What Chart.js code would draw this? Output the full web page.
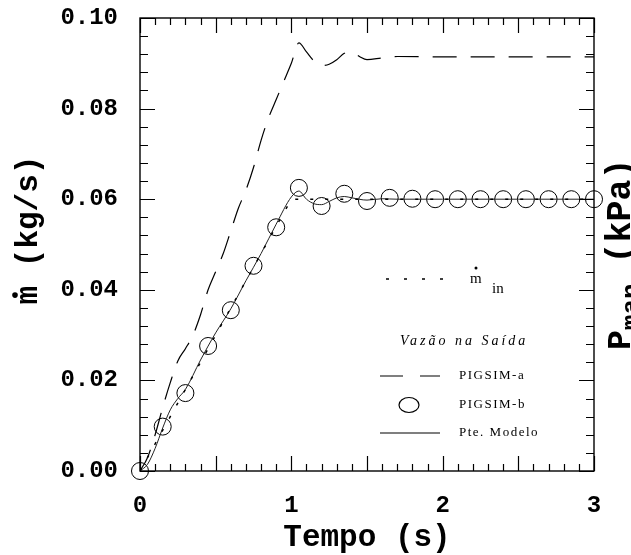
<!DOCTYPE html>
<html>
<head>
<meta charset="utf-8">
<script src="https://cdn.jsdelivr.net/npm/chart.js@4.4.0/dist/chart.umd.min.js"></script>
<style>
html, body { margin: 0; padding: 0; background: #fff; }
#wrap { width: 631px; height: 555px; position: relative; }
</style>
</head>
<body>
<div id="wrap"><canvas id="chart"></canvas></div>
<script>
// axis ticks
const xTicks = [0, 1, 2, 3];
const yTicks = [0, 0.02, 0.04, 0.06, 0.08, 0.10];
const xMinorStep = 0.1;
const yMinorStep = 0.004;

// m_in (dotted)
const tIn = [0, 0.05, 0.1, 0.2, 0.3, 0.5, 0.7, 0.9, 1.0, 1.1, 1.5, 2.0, 2.5, 3.0];
const mIn = [0, 0.003, 0.006, 0.012, 0.018, 0.030, 0.042, 0.054, 0.060, 0.060, 0.060, 0.060, 0.060, 0.060];

// PIGSIM-a (dashed)
const tA = [0, 0.05, 0.1, 0.15, 0.2, 0.25, 0.3, 0.35, 0.4, 0.45, 0.5, 0.55, 0.6, 0.65, 0.7, 0.75, 0.8, 0.85, 0.9, 0.95, 1.0, 1.05, 1.1, 1.15, 1.2, 1.25, 1.3, 1.35, 1.4, 1.45, 1.5, 1.6, 1.7, 2.0, 2.5, 3.0];
const pigsimA = [0, 0.003, 0.008, 0.014, 0.0195, 0.0243, 0.027, 0.030, 0.0345, 0.040, 0.044, 0.048, 0.053, 0.058, 0.062, 0.067, 0.073, 0.078, 0.082, 0.086, 0.090, 0.0945, 0.0925, 0.0905, 0.0895, 0.0898, 0.0908, 0.0922, 0.0925, 0.0915, 0.0908, 0.0912, 0.0915, 0.0914, 0.0914, 0.0914];

// PIGSIM-b (circles)
const tB = [0, 0.15, 0.3, 0.45, 0.6, 0.75, 0.9, 1.05, 1.2, 1.35, 1.5, 1.65, 1.8, 1.95, 2.1, 2.25, 2.4, 2.55, 2.7, 2.85, 3.0];
const pigsimB = [0, 0.0098, 0.0172, 0.0276, 0.0355, 0.0453, 0.0538, 0.0625, 0.0585, 0.0612, 0.0596, 0.0603, 0.0601, 0.060, 0.060, 0.060, 0.060, 0.060, 0.060, 0.060, 0.060];

// Pte. Modelo (solid)
const tModel = [0, 0.05, 0.1, 0.15, 0.2, 0.25, 0.3, 0.4, 0.5, 0.6, 0.7, 0.8, 0.9, 1.0, 1.05, 1.1, 1.15, 1.2, 1.25, 1.3, 1.35, 1.4, 1.5, 1.6, 1.7, 2.0, 2.5, 3.0];
const pteModelo = [0, 0.0015, 0.005, 0.0095, 0.0135, 0.016, 0.018, 0.0245, 0.0305, 0.0358, 0.042, 0.048, 0.0545, 0.0605, 0.0618, 0.0600, 0.0590, 0.0588, 0.0595, 0.0603, 0.0606, 0.0603, 0.0598, 0.0601, 0.0600, 0.0600, 0.0600, 0.0600];

function pairs(xs, ys) {
    return xs.map((x, i) => ({ x: x, y: ys[i] }));
}

const mono = "'Liberation Mono', 'Courier New', monospace";
const serif = "'Liberation Serif', 'Times New Roman', serif";

// frame, inward ticks, axis titles and the in-plot legend
const decor = {
    id: 'decor',
    afterDraw(chart) {
        const ctx = chart.ctx;
        const a = chart.chartArea;
        const xs = chart.scales.x, ys = chart.scales.y;
        ctx.save();
        ctx.strokeStyle = '#000';
        ctx.lineWidth = 1.4;
        ctx.strokeRect(a.left, a.top, a.right - a.left, a.bottom - a.top);

        ctx.lineWidth = 1.2;
        ctx.beginPath();
        const nx = Math.round((xs.max - xs.min) / xMinorStep);
        for (let i = 0; i <= nx; i++) {
            const px = Math.round(xs.getPixelForValue(xs.min + i * xMinorStep)) + 0.5;
            const len = i % 5 === 0 ? 15 : 7;
            ctx.moveTo(px, a.bottom); ctx.lineTo(px, a.bottom - len);
            ctx.moveTo(px, a.top); ctx.lineTo(px, a.top + len);
        }
        const ny = Math.round((ys.max - ys.min) / yMinorStep);
        for (let i = 0; i <= ny; i++) {
            const py = Math.round(ys.getPixelForValue(ys.min + i * yMinorStep)) + 0.5;
            const len = i % 5 === 0 ? 15 : 8;
            ctx.moveTo(a.left, py); ctx.lineTo(a.left + len, py);
            ctx.moveTo(a.right, py); ctx.lineTo(a.right - len, py);
        }
        ctx.stroke();

        // y title with dot over m
        ctx.fillStyle = '#000';
        ctx.font = 'bold 31px ' + mono;
        ctx.save();
        ctx.translate(29, 230);
        ctx.rotate(-Math.PI / 2);
        ctx.textAlign = 'left';
        ctx.textBaseline = 'middle';
        const yt = 'm (kg/s)';
        const w = ctx.measureText(yt).width;
        ctx.fillText(yt, -w / 2, 0);
        const mw = ctx.measureText('m').width;
        ctx.beginPath();
        ctx.arc(-w / 2 + mw / 2, -14, 2.8, 0, Math.PI * 2);
        ctx.fill();
        ctx.restore();

        // right title (clipped by the edge)
        ctx.save();
        ctx.translate(630, 350);
        ctx.rotate(-Math.PI / 2);
        ctx.textBaseline = 'alphabetic';
        ctx.textAlign = 'left';
        ctx.font = 'bold 33px ' + mono;
        ctx.fillText('P', 0, 0);
        let off = ctx.measureText('P').width;
        ctx.font = 'bold 26px ' + mono;
        ctx.fillText('man', off, 9);
        off += ctx.measureText('man').width;
        ctx.font = 'bold 35px ' + mono;
        ctx.fillText('(kPa)', off + 20, 0);
        ctx.restore();

        // legend
        ctx.strokeStyle = '#000';
        ctx.lineWidth = 1.5;
        ctx.setLineDash([3, 15]);
        ctx.beginPath(); ctx.moveTo(386, 279); ctx.lineTo(458, 279); ctx.stroke();
        ctx.setLineDash([]);
        ctx.font = '15px ' + serif;
        ctx.textBaseline = 'alphabetic';
        ctx.fillText('m', 470, 283);
        ctx.beginPath(); ctx.arc(476, 268, 1.5, 0, Math.PI * 2); ctx.fill();
        ctx.fillText('in', 492, 293);

        ctx.font = 'italic 14px ' + serif;
        ctx.letterSpacing = '3px';
        ctx.textBaseline = 'middle';
        ctx.fillText('Vazão na Saída', 400, 341);

        ctx.font = '13px ' + serif;
        ctx.letterSpacing = '1.5px';
        ctx.fillText('PIGSIM-a', 459, 376);
        ctx.fillText('PIGSIM-b', 459, 405);
        ctx.fillText('Pte. Modelo', 459, 433);
        ctx.letterSpacing = '0px';

        ctx.lineWidth = 1.2;
        ctx.beginPath(); ctx.moveTo(380, 376); ctx.lineTo(403, 376); ctx.moveTo(420, 376); ctx.lineTo(440, 376); ctx.stroke();
        ctx.beginPath(); ctx.ellipse(409, 405, 10, 7.5, 0, 0, Math.PI * 2); ctx.stroke();
        ctx.beginPath(); ctx.moveTo(380, 433); ctx.lineTo(440, 433); ctx.stroke();
        ctx.restore();
    }
};

const ctx = document.getElementById('chart').getContext('2d');
const chart = new Chart(ctx, {
    type: 'scatter',
    data: {
        datasets: [
            {
                label: 'm_in',
                data: pairs(tIn, mIn),
                showLine: true,
                borderColor: '#000',
                borderWidth: 1.5,
                borderDash: [3, 12],
                pointRadius: 0,
                tension: 0
            },
            {
                label: 'PIGSIM-a',
                data: pairs(tA, pigsimA),
                showLine: true,
                borderColor: '#000',
                borderWidth: 1.2,
                borderDash: [24, 14],
                pointRadius: 0,
                cubicInterpolationMode: 'monotone'
            },
            {
                label: 'Pte. Modelo',
                data: pairs(tModel, pteModelo),
                showLine: true,
                borderColor: '#222',
                borderWidth: 1,
                pointRadius: 0,
                cubicInterpolationMode: 'monotone'
            },
            {
                label: 'PIGSIM-b',
                data: pairs(tB, pigsimB),
                showLine: false,
                pointStyle: 'circle',
                pointRadius: 8.5,
                pointBorderWidth: 1,
                pointBorderColor: '#000',
                pointBackgroundColor: 'rgba(0,0,0,0)',
                clip: false
            }
        ]
    },
    options: {
        responsive: true,
        maintainAspectRatio: false,
        animation: false,
        layout: { padding: { top: 18, right: 37, left: 0, bottom: 0 } },
        plugins: {
            legend: { display: false },
            title: { display: false },
            tooltip: { enabled: false }
        },
        scales: {
            x: {
                type: 'linear',
                min: 0,
                max: 3,
                afterFit: (s) => { s.height = 84; s.paddingLeft = 0; s.paddingRight = 0; },
                afterBuildTicks: (s) => { s.ticks = xTicks.map(v => ({ value: v })); },
                grid: { display: false, drawTicks: false },
                border: { display: false },
                ticks: {
                    padding: 21,
                    color: '#000',
                    font: { family: mono, size: 24, weight: 'bold' },
                    maxRotation: 0,
                    callback: (v) => String(v)
                },
                title: {
                    display: true,
                    text: 'Tempo (s)',
                    color: '#000',
                    font: { family: mono, size: 31, weight: 'bold' },
                    padding: { top: 0, bottom: -2 }
                }
            },
            y: {
                type: 'linear',
                min: 0,
                max: 0.1,
                afterFit: (s) => { s.width = 140; s.paddingTop = 0; s.paddingBottom = 0; },
                afterBuildTicks: (s) => { s.ticks = yTicks.map(v => ({ value: v })); },
                grid: { display: false, drawTicks: false },
                border: { display: false },
                ticks: {
                    padding: 22,
                    color: '#000',
                    font: { family: mono, size: 24, weight: 'bold' },
                    callback: (v) => v.toFixed(2)
                }
            }
        }
    },
    plugins: [decor]
});
</script>
</body>
</html>
